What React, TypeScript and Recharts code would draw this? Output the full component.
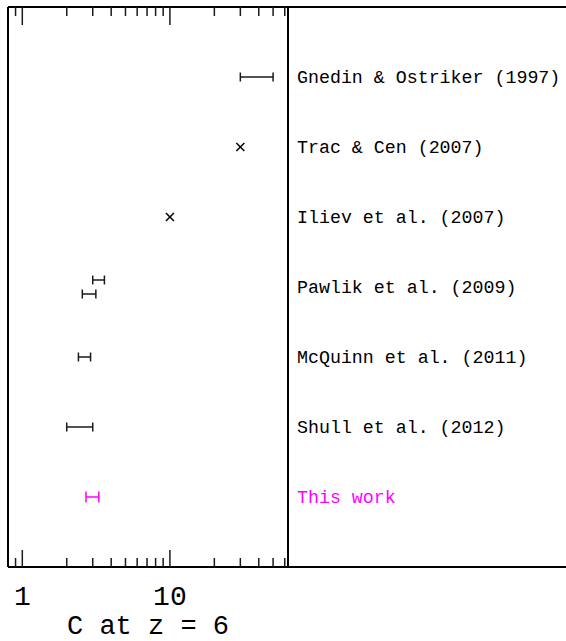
import { ScatterChart, Scatter, XAxis, YAxis, ErrorBar } from "recharts";

// studies, listed top to bottom
const studies = [
  "Gnedin & Ostriker (1997)",
  "Trac & Cen (2007)",
  "Iliev et al. (2007)",
  "Pawlik et al. (2009)",
  "McQuinn et al. (2011)",
  "Shull et al. (2012)",
  "This work",
];
const studyRows = [1, 2, 3, 4, 5, 6, 7];

// ranges (error bars), row + low/high clumping factor
const rangeRows = [1, 3.9, 4.1, 5, 6];
const rangeLow = [30, 3.0, 2.55, 2.4, 2.0];
const rangeHigh = [50, 3.6, 3.15, 2.9, 3.0];

// single values (crosses)
const pointRows = [2, 3];
const pointValues = [30, 10];

// this work
const ourRows = [7];
const ourLow = [2.7];
const ourHigh = [3.3];

const xTicks = [0.9, 1, 2, 3, 4, 5, 6, 7, 8, 9, 10, 20, 30, 40, 50, 60];
const xTickLabels = [1, 10];

const MAGENTA = "#ff00ff";
const INK = "#1a1a1a";
const MONO = "'Liberation Mono', 'DejaVu Sans Mono', monospace";

const toRange = (rows: number[], lo: number[], hi: number[]) =>
  rows.map((y, i) => {
    const mid = (lo[i] + hi[i]) / 2;
    return { x: mid, y, err: [mid - lo[i], hi[i] - mid] };
  });

const rangeData = toRange(rangeRows, rangeLow, rangeHigh);
const ourData = toRange(ourRows, ourLow, ourHigh);
const pointData = pointRows.map((y, i) => ({ x: pointValues[i], y }));

function BottomTick(props: any) {
  const { x, y, payload } = props;
  const major = xTickLabels.includes(payload.value);
  return (
    <g>
      <line x1={x} x2={x} y1={y} y2={y - (major ? 17 : 9)} stroke={INK} strokeWidth={1.5} />
      {major && (
        <text x={x} y={y + 38} textAnchor="middle" fontFamily={MONO} fontSize={28} fill="#000">
          {payload.value}
        </text>
      )}
    </g>
  );
}

function TopTick(props: any) {
  const { x, y, payload } = props;
  const major = xTickLabels.includes(payload.value);
  return <line x1={x} x2={x} y1={y} y2={y + (major ? 18 : 9)} stroke={INK} strokeWidth={1.5} />;
}

function StudyTick(props: any) {
  const { x, y, payload } = props;
  const idx = studyRows.indexOf(payload.value);
  const name = studies[idx];
  return (
    <text
      x={x}
      y={y}
      dy={6}
      textAnchor="start"
      fontFamily={MONO}
      fontSize={18.3}
      fill={name === "This work" ? MAGENTA : "#000"}
    >
      {name}
    </text>
  );
}

const Cross = (props: any) => {
  const { cx, cy } = props;
  const s = 4;
  return (
    <g stroke="#000" strokeWidth={1.5}>
      <line x1={cx - s} y1={cy - s} x2={cx + s} y2={cy + s} />
      <line x1={cx - s} y1={cy + s} x2={cx + s} y2={cy - s} />
    </g>
  );
};

const NoMark = () => <g />;

export default function App() {
  return (
    <div style={{ position: "absolute", left: 0, top: 0, width: 566, height: 641, background: "#fff" }}>
      <ScatterChart width={566} height={641} margin={{ top: 6, right: 0, bottom: 0, left: 7 }}>
        <XAxis
          xAxisId="bottom"
          type="number"
          dataKey="x"
          scale="log"
          domain={[0.8, 63.1]}
          allowDataOverflow
          ticks={xTicks}
          interval={0}
          height={74}
          tickSize={0}
          tickMargin={0}
          tick={<BottomTick />}
          axisLine={{ stroke: "#000", strokeWidth: 2 }}
          label={{
            value: "C at z = 6",
            position: "insideBottom",
            offset: 7,
            fontFamily: MONO,
            fontSize: 27,
            fill: "#000",
          }}
        />
        <XAxis
          xAxisId="top"
          orientation="top"
          type="number"
          dataKey="x"
          scale="log"
          domain={[0.8, 63.1]}
          allowDataOverflow
          ticks={xTicks}
          interval={0}
          height={1}
          tickSize={0}
          tickMargin={0}
          tick={<TopTick />}
          axisLine={{ stroke: "#000", strokeWidth: 2 }}
        />
        <YAxis
          yAxisId="left"
          type="number"
          dataKey="y"
          domain={[0, 8]}
          reversed
          width={1}
          tick={false}
          tickLine={false}
          axisLine={{ stroke: "#000", strokeWidth: 2 }}
        />
        <YAxis
          yAxisId="right"
          orientation="right"
          type="number"
          dataKey="y"
          domain={[0, 8]}
          reversed
          ticks={studyRows}
          interval={0}
          width={278}
          tickSize={0}
          tickMargin={9}
          tickLine={false}
          tick={<StudyTick />}
          axisLine={{ stroke: "#000", strokeWidth: 2 }}
        />
        <Scatter
          data={rangeData}
          xAxisId="bottom"
          yAxisId="right"
          shape={NoMark}
          isAnimationActive={false}
        >
          <ErrorBar dataKey="err" direction="x" width={4.5} stroke={INK} strokeWidth={1.5} />
        </Scatter>
        <Scatter
          data={ourData}
          xAxisId="bottom"
          yAxisId="right"
          shape={NoMark}
          isAnimationActive={false}
        >
          <ErrorBar dataKey="err" direction="x" width={5.5} stroke={MAGENTA} strokeWidth={1.5} />
        </Scatter>
        <Scatter
          data={pointData}
          xAxisId="bottom"
          yAxisId="right"
          shape={Cross}
          isAnimationActive={false}
        />
      </ScatterChart>
      <div
        style={{
          position: "absolute",
          left: 288,
          top: 6,
          width: 278,
          height: 558,
          borderTop: "2px solid #000",
          borderBottom: "2px solid #000",
        }}
      />
    </div>
  );
}
